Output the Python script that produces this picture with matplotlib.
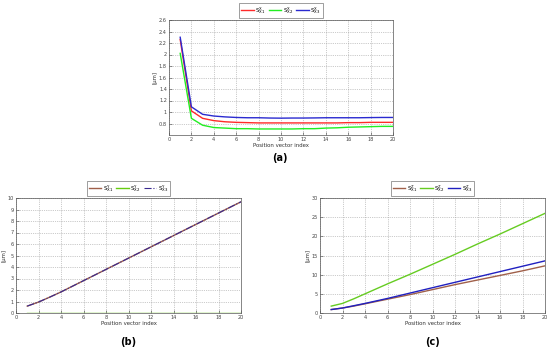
import matplotlib
matplotlib.use("Agg")
import matplotlib.pyplot as plt

x = list(range(1, 21))

# Panel (a)
a_x1 = [2.26, 1.02, 0.89, 0.85, 0.83, 0.82, 0.815, 0.81, 0.81, 0.81, 0.81, 0.81, 0.81, 0.81, 0.81, 0.815, 0.815, 0.82, 0.82, 0.82]
a_x2 = [2.02, 0.89, 0.77, 0.73, 0.72, 0.71, 0.71, 0.705, 0.705, 0.705, 0.705, 0.71, 0.71, 0.72, 0.725, 0.735, 0.74, 0.745, 0.75, 0.75]
a_x3 = [2.30, 1.09, 0.96, 0.93, 0.915, 0.905, 0.90, 0.90, 0.895, 0.893, 0.895, 0.895, 0.897, 0.90, 0.90, 0.90, 0.90, 0.903, 0.905, 0.905]

# Panel (b)
b_x1 = [0.60, 0.95, 1.38, 1.83, 2.32, 2.81, 3.30, 3.79, 4.28, 4.77, 5.26, 5.75, 6.24, 6.73, 7.22, 7.71, 8.20, 8.69, 9.18, 9.67]
b_x2 = [0.02, 0.02, 0.02, 0.02, 0.02, 0.02, 0.02, 0.02, 0.02, 0.02, 0.02, 0.02, 0.02, 0.02, 0.02, 0.02, 0.02, 0.02, 0.02, 0.02]
b_x3 = [0.60, 0.95, 1.38, 1.83, 2.32, 2.81, 3.30, 3.79, 4.28, 4.77, 5.26, 5.75, 6.24, 6.73, 7.22, 7.71, 8.20, 8.69, 9.18, 9.67]

# Panel (c)
c_x1 = [0.9, 1.3, 1.8, 2.4, 3.0, 3.6, 4.2, 4.8, 5.45, 6.1, 6.75, 7.4, 8.0, 8.6, 9.2, 9.8, 10.4, 11.0, 11.65, 12.3]
c_x2 = [1.8, 2.5, 3.7, 5.0, 6.3, 7.6, 8.85, 10.1, 11.4, 12.7, 14.0, 15.3, 16.65, 18.0, 19.3, 20.6, 21.95, 23.3, 24.65, 26.0]
c_x3 = [0.9, 1.3, 1.9, 2.5, 3.15, 3.8, 4.5, 5.2, 5.9, 6.6, 7.3, 8.0, 8.7, 9.4, 10.1, 10.8, 11.5, 12.2, 12.9, 13.6]

xticks = list(range(0, 21, 2))
a_yticks = [0.8, 1.0, 1.2, 1.4, 1.6, 1.8, 2.0, 2.2, 2.4, 2.6]
a_yticklabels = ["0.8", "1", "1.2", "1.4", "1.6", "1.8", "2", "2.2", "2.4", "2.6"]
b_yticks = list(range(0, 11))
c_yticks = list(range(0, 31, 5))

W, H = 550, 349
fig = plt.figure(figsize=(5.5, 3.49), dpi=100)

FS = 3.6

def make_ax(left, top, right, bottom):
    return fig.add_axes([left / W, 1 - bottom / H, (right - left) / W, (bottom - top) / H])

def style(ax, yticks, ylim, yticklabels=None):
    ax.set_xlim(0, 20)
    ax.set_ylim(*ylim)
    ax.set_xticks(xticks)
    ax.set_yticks(yticks)
    if yticklabels is not None:
        ax.set_yticklabels(yticklabels)
    ax.tick_params(direction="in", length=2, width=0.4, labelsize=FS, pad=1.5, colors="#444444")
    ax.grid(True, linestyle=":", linewidth=0.5, color="#999999")
    for s in ax.spines.values():
        s.set_linewidth(0.5)
        s.set_color("#555555")
    ax.set_xlabel("Position vector index", fontsize=FS + 0.3, labelpad=1, color="#333333")
    ax.set_ylabel("[μm]", fontsize=FS + 0.3, labelpad=1, color="#333333")

def legend(ax):
    leg = ax.legend(loc="lower center", bbox_to_anchor=(0.5, 1.01), ncol=3,
                    fontsize=FS + 0.4, frameon=True, fancybox=False, handlelength=2.2,
                    handletextpad=0.3, columnspacing=0.6, borderpad=0.35, borderaxespad=0.2)
    leg.get_frame().set_linewidth(0.5)
    leg.get_frame().set_edgecolor("#555555")

# (a)
ax = make_ax(169, 20, 393, 135)
ax.plot(x, a_x1, color="#ff2a2a", lw=1.0, label=r"$\mathrm{S}^{\mathrm{X}}_{\mathrm{X1}}$")
ax.plot(x, a_x2, color="#22ee22", lw=1.0, label=r"$\mathrm{S}^{\mathrm{X}}_{\mathrm{X2}}$")
ax.plot(x, a_x3, color="#2a2ad0", lw=1.0, label=r"$\mathrm{S}^{\mathrm{X}}_{\mathrm{X3}}$")
style(ax, a_yticks, (0.6, 2.6), a_yticklabels)
legend(ax)
fig.text(280 / W, 1 - 158 / H, "(a)", ha="center", va="center", fontsize=7, fontweight="bold")

# (b)
ax = make_ax(16, 198, 241, 313)
ax.plot(x, b_x1, color="#a0604a", lw=1.0, label=r"$\mathrm{S}^{\mathrm{Y}}_{\mathrm{X1}}$")
ax.plot(x, b_x2, color="#66cc11", lw=1.0, label=r"$\mathrm{S}^{\mathrm{Y}}_{\mathrm{X2}}$")
ax.plot(x, b_x3, color="#3a2a90", lw=0.8, ls="-.",
        label=r"$\mathrm{S}^{\mathrm{Y}}_{\mathrm{X3}}$")
style(ax, b_yticks, (0, 10))
legend(ax)
fig.text(128 / W, 1 - 342 / H, "(b)", ha="center", va="center", fontsize=7, fontweight="bold")

# (c)
ax = make_ax(320, 198, 545, 313)
ax.plot(x, c_x1, color="#a0604a", lw=1.0, label=r"$\mathrm{S}^{\mathrm{Z}}_{\mathrm{X1}}$")
ax.plot(x, c_x2, color="#66cc22", lw=1.0, label=r"$\mathrm{S}^{\mathrm{Z}}_{\mathrm{X2}}$")
ax.plot(x, c_x3, color="#2020c0", lw=1.0, label=r"$\mathrm{S}^{\mathrm{Z}}_{\mathrm{X3}}$")
style(ax, c_yticks, (0, 30))
legend(ax)
fig.text(432 / W, 1 - 342 / H, "(c)", ha="center", va="center", fontsize=7, fontweight="bold")

fig.savefig("out.png", dpi=100)
